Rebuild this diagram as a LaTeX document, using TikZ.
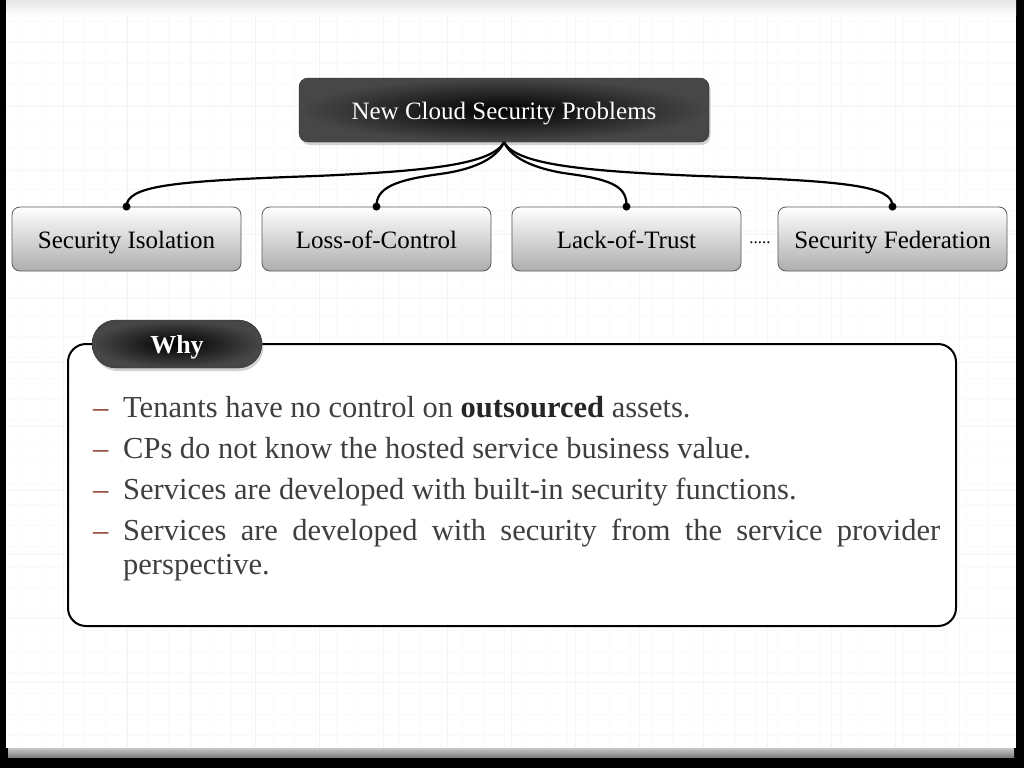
\documentclass[tikz,border=0pt]{standalone}
\usepackage{fontspec}
\setmainfont{Liberation Serif}
\usetikzlibrary{shadows}
\definecolor{txt}{HTML}{3F3F3F}
\definecolor{dashc}{HTML}{8B3A2A}
\definecolor{gmaj}{HTML}{F4F4F4}
\definecolor{gmin}{HTML}{FAFAFA}
\begin{document}
\begin{tikzpicture}[x=1pt,y=-1pt,
  darkbox/.style={shading=radial, inner color=black, outer color=black!72, draw=black!85, text=white,
    drop shadow={opacity=0.35,shadow xshift=1.5pt,shadow yshift=-3pt}},
  childbox/.style={rounded corners=8pt, top color=white, bottom color=black!32, draw=black!65, line width=0.8pt,
    minimum width=229pt, minimum height=64pt, font=\fontsize{25}{30}\selectfont, text=black,
    text height=20pt, text depth=2pt},
  conn/.style={line width=2.2pt, draw=black},
  bul/.style={anchor=base west, inner sep=0pt, text=txt, font=\fontsize{30.5}{34}\selectfont},
  dsh/.style={anchor=base west, inner sep=0pt, text=dashc, font=\fontsize{30.5}{34}\selectfont},
]
\useasboundingbox (0,0) rectangle (1024,768);
% background frame
\fill[black] (0,0) rectangle (1024,768);
\fill[white] (6,0) rectangle (1016,748);
\shade[top color=black!10, bottom color=white] (6,0) rectangle (1016,16);
\shade[top color=black!22, bottom color=black!50] (8,748) rectangle (1014,757);
% faint grid
\foreach \x in {21,42,...,1000} \draw[gmin, line width=0.7pt] (\x,16) -- (\x,748);
\foreach \y in {21,42,...,740} \draw[gmin, line width=0.7pt] (6,\y) -- (1016,\y);
\foreach \x in {63,127,...,1000} \draw[gmaj, line width=0.9pt] (\x,16) -- (\x,748);
\foreach \y in {42,106,...,740} \draw[gmaj, line width=0.9pt] (6,\y) -- (1016,\y);

% top node
\node[darkbox, rounded corners=9pt, minimum width=410pt, minimum height=64pt,
  font=\fontsize{25}{30}\selectfont, text height=20pt, text depth=2pt] (top) at (504,110) {New Cloud Security Problems};

% children
\node[childbox] (c1) at (126.5,239) {Security Isolation};
\node[childbox] (c2) at (376.5,239) {Loss-of-Control};
\node[childbox] (c3) at (626.5,239) {Lack-of-Trust};
\node[childbox] (c4) at (892.5,239) {Security Federation};
\node[anchor=base, inner sep=0pt, font=\fontsize{17}{17}\selectfont] (dots) at (760,243) {.....};

% connectors
\draw[conn] (top.south) .. controls +(-12,22) and (430,171) .. (316,176) .. controls (170,181) and (127,186) .. (c1.north);
\draw[conn] (top.south) .. controls +(-8,18) and (470,170) .. (440,174) .. controls (395,180) and (376,188) .. (c2.north);
\draw[conn] (top.south) .. controls +(8,18) and (540,170) .. (570,174) .. controls (615,180) and (627,188) .. (c3.north);
\draw[conn] (top.south) .. controls +(12,22) and (580,171) .. (700,176) .. controls (850,181) and (893,186) .. (c4.north);
\foreach \n in {c1,c2,c3,c4} \fill (\n.north) circle (4pt);

% why box
\node[draw=black, line width=2pt, rounded corners=18pt, fill=white, minimum width=888pt, minimum height=282pt] (whybox) at (512,485) {};
\node[darkbox, rounded corners=24pt, minimum width=170pt, minimum height=48pt,
  font=\fontsize{26}{30}\selectfont\bfseries, text height=21pt, text depth=3pt] (why) at (177,344) {Why};

% bullets
\node[dsh] (d1) at (93,417) {–};
\node[bul] (b1) at (123,417) {Tenants have no control on \textbf{\color{black!85}outsourced} assets.};
\node[dsh] (d2) at (93,458) {–};
\node[bul] (b2) at (123,458) {CPs do not know the hosted service business value.};
\node[dsh] (d3) at (93,499) {–};
\node[bul] (b3) at (123,499) {Services are developed with built-in security functions.};
\node[dsh] (d4) at (93,540) {–};
\node[bul] (b4) at (123,540) {\parbox[t]{817pt}{\hyphenpenalty=10000\exhyphenpenalty=10000\emergencystretch=3em\noindent
  Services are developed with security from the service provider perspective.}};
\end{tikzpicture}
\end{document}
